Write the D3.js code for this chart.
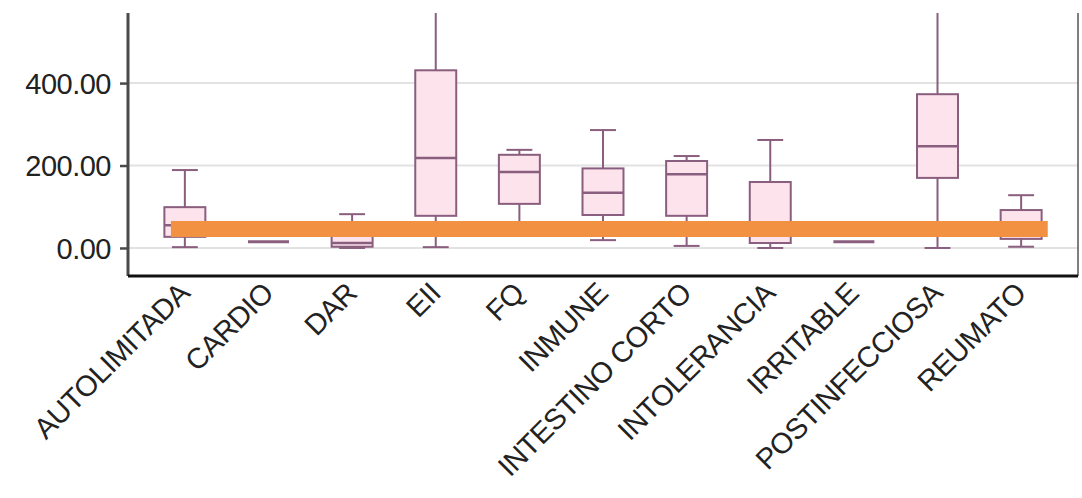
<!DOCTYPE html>
<html lang="en">
<head>
<meta charset="UTF-8" />
<title>index</title>
<style>
  body { margin: 0; background: #fff; }
  svg text { font-family: "Liberation Sans", Arial, sans-serif; fill: #222; }
</style>
<script src="https://d3js.org/d3.v7.min.js"></script>
</head>
<body>
<div id="my_dataviz"></div>
<script>
// categories and box statistics
var categories = ["AUTOLIMITADA", "CARDIO", "DAR", "EII", "FQ", "INMUNE",
  "INTESTINO CORTO", "INTOLERANCIA", "IRRITABLE", "POSTINFECCIOSA", "REUMATO"];
var whiskerLow  = [2,   15, 0,  2,   60,  19,  5,   0,   15, 0,   3];
var q1          = [27,  15, 3,  78,  107, 80,  78,  12,  15, 170, 22];
var median      = [55,  15, 12, 218, 184, 134, 179, 40,  15, 247, 55];
var q3          = [99,  15, 40, 431, 226, 193, 211, 160, 15, 373, 92];
var whiskerHigh = [189, 15, 82, 650, 238, 286, 223, 262, 15, 650, 128];
var yTicks = [0, 200, 400];
var highlightLevel = 46;

var margin = {top: 13, right: 4, bottom: 222, left: 128},
    width = 1082 - margin.left - margin.right,
    height = 498 - margin.top - margin.bottom;

var svg = d3.select("#my_dataviz")
  .append("svg")
    .attr("width", 1082)
    .attr("height", 498)
  .append("g")
    .attr("transform", "translate(" + margin.left + "," + margin.top + ")");

svg.append("clipPath").attr("id", "plotclip")
  .append("rect").attr("width", width).attr("height", height);

var x = d3.scalePoint()
  .domain(categories)
  .range([0, width])
  .padding(0.68);

var y = d3.scaleLinear()
  .domain([-68, 570])
  .range([height, 0]);

var step = x.step(), boxW = step * 0.49, capW = step * 0.31;

// gridlines
svg.append("g")
  .selectAll("line")
  .data(yTicks)
  .enter().append("line")
    .attr("x1", 0).attr("x2", width)
    .attr("y1", function(d) { return y(d); })
    .attr("y2", function(d) { return y(d); })
    .attr("stroke", "#e2e2e2")
    .attr("stroke-width", 2);

var data = categories.map(function(c, i) {
  return {cat: c, lo: whiskerLow[i], q1: q1[i], med: median[i], q3: q3[i], hi: whiskerHigh[i]};
});

var boxes = svg.append("g").attr("clip-path", "url(#plotclip)")
  .selectAll("g")
  .data(data)
  .enter().append("g")
    .attr("transform", function(d) { return "translate(" + x(d.cat) + ",0)"; });

var stroke = "#8a5e7e";

boxes.append("line")
  .attr("y1", function(d) { return y(d.lo); })
  .attr("y2", function(d) { return y(d.hi); })
  .attr("stroke", stroke).attr("stroke-width", 2);

boxes.selectAll(".cap")
  .data(function(d) { return d.hi > d.lo ? [d.lo, d.hi] : []; })
  .enter().append("line")
    .attr("x1", -capW / 2).attr("x2", capW / 2)
    .attr("y1", function(v) { return y(v); })
    .attr("y2", function(v) { return y(v); })
    .attr("stroke", stroke).attr("stroke-width", 2);

boxes.append("rect")
  .attr("x", -boxW / 2)
  .attr("width", boxW)
  .attr("y", function(d) { return y(d.q3); })
  .attr("height", function(d) { return y(d.q1) - y(d.q3); })
  .attr("fill", "#fde3ec")
  .attr("stroke", stroke)
  .attr("stroke-width", 2);

boxes.append("line")
  .attr("x1", -boxW / 2).attr("x2", boxW / 2)
  .attr("y1", function(d) { return y(d.med); })
  .attr("y2", function(d) { return y(d.med); })
  .attr("stroke", stroke)
  .attr("stroke-width", function(d) { return d.hi > d.lo ? 2.5 : 3; });

// orange highlight bar over the chart
var first = x(categories[0]), last = x(categories[categories.length - 1]);
svg.append("line")
  .attr("x1", first - boxW * 0.34)
  .attr("x2", last + boxW * 0.65)
  .attr("y1", y(highlightLevel))
  .attr("y2", y(highlightLevel))
  .attr("stroke", "#f39143")
  .attr("stroke-width", 16);

// Y axis
var yAxis = svg.append("g")
  .call(d3.axisLeft(y).tickValues(yTicks).tickFormat(d3.format(".2f")).tickSize(8).tickPadding(9));
yAxis.select(".domain").attr("stroke", "#4a4a4a").attr("stroke-width", 3)
  .attr("d", "M0," + height + "V0");
yAxis.selectAll(".tick line").attr("stroke", "#4a4a4a").attr("stroke-width", 2.5);
yAxis.selectAll("text").style("font-size", "29px").style("letter-spacing", "-0.5px").attr("dy", "0.36em");

// right border
svg.append("line")
  .attr("x1", width).attr("x2", width)
  .attr("y1", 0).attr("y2", height)
  .attr("stroke", "#555").attr("stroke-width", 1.5);

// X axis
var xAxis = svg.append("g")
  .attr("transform", "translate(0," + height + ")")
  .call(d3.axisBottom(x).tickSize(0).tickPadding(0));
xAxis.select(".domain").attr("stroke", "#111").attr("stroke-width", 3)
  .attr("d", "M0,0H" + width);
xAxis.selectAll("text")
  .style("font-size", "29px")
  .style("letter-spacing", "-0.5px")
  .style("text-anchor", "end")
  .attr("dy", "0")
  .attr("transform", "translate(6,19) rotate(-45)");
</script>
</body>
</html>
